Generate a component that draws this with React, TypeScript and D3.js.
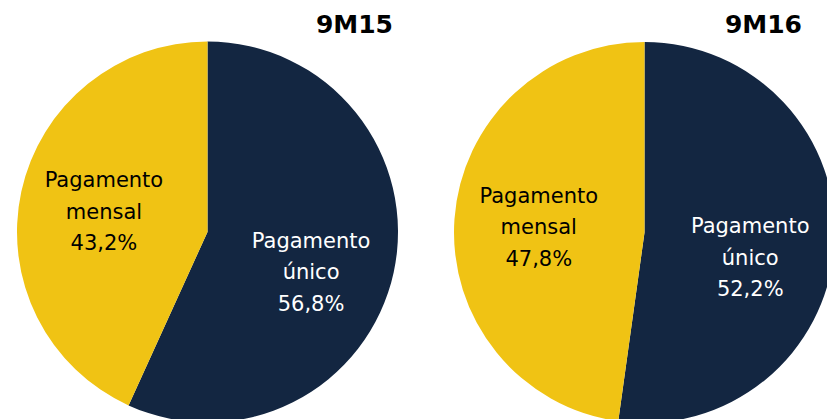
import React from "react";
import * as d3 from "d3";

const periods = ["9M15", "9M16"];
const categories = ["Pagamento único", "Pagamento mensal"];
const labelLines = [["Pagamento", "único"], ["Pagamento", "mensal"]];
const values9M15 = [56.8, 43.2];
const values9M16 = [52.2, 47.8];
const seriesValues = [values9M15, values9M16];

const W = 827;
const H = 419;
const colors = ["#132641", "#F0C314"];
const textColors = ["#FFFFFF", "#000000"];
const centers = [
  { cx: 207.5, cy: 232 },
  { cx: 644.5, cy: 232.5 },
];
const titleX = [393, 802];
const R = 190.5;
const labelR = 106;
const labelNudgeY = [25, 9];
const lineH = 31.5;

const fmt = (v: number) => v.toFixed(1).replace(".", ",") + "%";

export default function App() {
  const pie = d3
    .pie<number>()
    .sort(null)
    .value((d) => d);
  const arc = d3.arc<d3.PieArcDatum<number>>().innerRadius(0).outerRadius(R);
  const labelArc = d3
    .arc<d3.PieArcDatum<number>>()
    .innerRadius(labelR)
    .outerRadius(labelR);

  return (
    <svg
      width={W}
      height={H}
      style={{ position: "absolute", left: 0, top: 0, background: "#fff" }}
    >
      {seriesValues.map((vals, pi) => {
        const { cx, cy } = centers[pi];
        const arcs = pie(vals);
        return (
          <g key={periods[pi]}>
            <g transform={`translate(${cx},${cy})`}>
              {arcs.map((a, i) => (
                <path key={categories[i]} d={arc(a) || ""} fill={colors[i]} />
              ))}
              {arcs.map((a, i) => {
                const [lx, ly] = labelArc.centroid(a);
                const base = ly + labelNudgeY[i];
                const lines = [...labelLines[i], fmt(vals[i])];
                return (
                  <text
                    key={"l" + i}
                    textAnchor="middle"
                    fontFamily="DejaVu Sans, sans-serif"
                    fontSize={21}
                    fill={textColors[i]}
                  >
                    {lines.map((t, k) => (
                      <tspan key={k} x={lx} y={base + (k - 1) * lineH}>
                        {t}
                      </tspan>
                    ))}
                  </text>
                );
              })}
            </g>
            <text
              x={titleX[pi]}
              y={33}
              textAnchor="end"
              fontFamily="DejaVu Sans, sans-serif"
              fontWeight="bold"
              fontSize={25}
              fill="#000"
            >
              {periods[pi]}
            </text>
          </g>
        );
      })}
    </svg>
  );
}
